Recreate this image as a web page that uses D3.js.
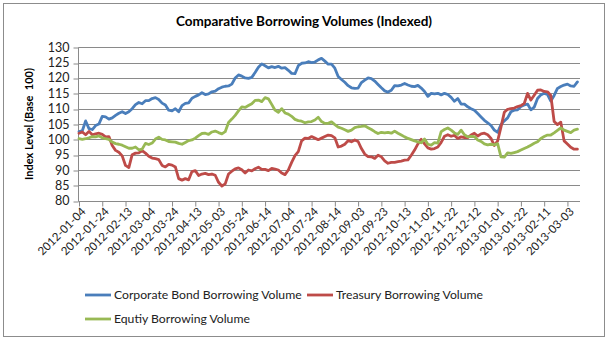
<!DOCTYPE html>
<html>
<head>
<meta charset="utf-8">
<script src="https://cdn.jsdelivr.net/npm/d3@7"></script>
<style>
  html, body { margin: 0; padding: 0; background: #fff; }
  svg { display: block; font-family: Lato, "Open Sans", sans-serif; }
</style>
</head>
<body>
<svg id="chart" width="609" height="341"></svg>
<script>
// Tick labels along the category axis (one every 7 samples)
const tickLabels = [
  "2012-01-04","2012-01-24","2012-02-13","2012-03-04","2012-03-24","2012-04-13",
  "2012-05-03","2012-05-24","2012-06-14","2012-07-04","2012-07-24","2012-08-14",
  "2012-09-03","2012-09-23","2012-10-13","2012-11-02","2012-11-22","2012-12-12",
  "2013-01-01","2013-01-22","2013-02-11","2013-03-03"
];
const samplesPerTick = 7;

const yTicks = [80, 85, 90, 95, 100, 105, 110, 115, 120, 125, 130];

// Index levels (base 100), sampled evenly along the axis
const corporateBond = [
  102.5,102.8,106,103.5,103.2,104.5,105,107.5,107.3,106.6,107,107.8,108.5,109,108.4,109,110,111.3,112,111.6,
  112.6,112.6,113.3,113.6,113,111.8,111.2,109.5,109.3,110,109,111,111.7,111.9,113.4,114,114.5,115.2,
  114.6,114.8,115.5,115.7,116.5,117,117.3,117.4,118,120,121,120.6,120,119.9,120.2,121.8,123.5,124.6,124,
  123.3,123.7,123.4,123.8,123.2,123.4,122.5,121.5,121.4,124,124.8,124.9,125.3,125,125.2,125.9,126.4,125.5,124.5,
  124.5,123.2,120.5,119.5,118.6,117.5,116.8,116.6,116.7,118.5,119.3,120,119.8,119,117.9,116.8,115.8,115.4,116,
  117.5,117.4,117.7,118.2,117.7,117.3,117.2,117.6,116.7,115.6,114,115,114.8,115,114.5,115,114.6,113.7,112.4,
  113.3,111.5,111.5,110.6,110,109.5,108.4,107.3,106.2,105.4,104.5,103,102.3,104.8,106,107,109,109.5,109.6,
  110.7,111.2,111.5,109.6,110.5,113.3,114.5,115,114.6,112.5,114.3,116.6,117.2,117.7,118,117.4,117.3,118.7
];

const treasury = [
  102,102.4,101.5,102.6,101.5,101.8,102,101.6,100.8,100.9,98,96.4,95.8,94.6,91.5,90.8,95,95.5,95.6,96.3,
  95.5,94.5,93.9,93.7,93.4,91.5,91,91.8,91.6,91,87.2,86.7,87.2,86.8,89.5,89.8,88.2,88.7,
  88.9,88.5,88.7,88.3,86,84.8,85.5,88.7,89.6,90.4,90.7,90.1,89,90,89.7,90.4,90.9,90.2,90.2,
  89.8,90.5,90.3,90,89,88.5,90,92.5,94.7,96,99.5,100.4,100.3,100.9,100.4,99.9,100.4,100.9,101.4,
  101.2,100.5,97.5,97.8,98.4,99.6,99.2,99.8,99.3,97,95.2,94.4,94.3,93.8,94.8,94.3,93,92.2,92.5,
  92.5,92.7,92.9,93.2,93.3,94.8,96.5,98.5,100,98.5,97.2,96.8,97,97.5,99,101,101.5,101,101.3,
  100.3,100.8,100.6,100.6,101.4,102,101.1,101.8,102,101.5,100.3,98,99.5,104,108.8,109.8,110,110.2,110.7,
  111,111.7,115,112.8,114.4,116,116.1,115.6,115.5,114.3,105.8,104.8,105.6,99.5,98.5,97.4,96.8,96.8
];

const equity = [
  100.2,100,100.2,100.5,100.9,100.8,101.1,100.5,100.2,100,99.1,98.6,98.4,98.1,97.6,97.1,97.1,97.5,96.6,96.8,
  98.7,98.3,98.8,100.1,100.7,100,99.8,99.3,99.2,99.1,98.7,98.4,99,99.6,99.8,100.4,101.2,101.9,
  102,101.6,102.4,102.7,102.2,101.8,102.5,105.5,106.6,107.8,109.3,110.6,110.4,111,111.6,112.7,112.8,112.3,113.6,
  113.2,111.4,109.5,108.8,110,108.6,108.2,107.5,106.5,106.1,105.9,105.4,105.7,105.8,106.3,107.2,105.8,105.2,105.2,
  105.7,104.8,104,103.6,103.1,102.6,103,103.8,104.1,104.2,104.4,103.8,103.2,102.5,101.9,102.3,102.1,102.3,102,
  102.7,102,101.4,100.8,100.3,99.9,99.5,99.2,98.9,100.1,98.4,98.1,98.9,98.8,102.5,103.2,103.7,103,102.1,
  101.6,103,101.5,100.8,101,100.9,99.8,99.3,98.5,98.2,98.4,98.2,98.6,94.3,94.2,95.6,95.4,95.7,96,
  96.5,97,97.5,98.1,98.7,99.2,100.3,100.9,101.4,101.4,102.1,102.9,103.7,103,102.6,102.2,103,103.3
];

const seriesNames = ["Corporate Bond Borrowing Volume", "Treasury Borrowing Volume", "Equtiy Borrowing Volume"];
const seriesColors = ["#4a7ebb", "#be4b48", "#98b954"];
const seriesValues = [corporateBond, treasury, equity];

const svg = d3.select("#chart");

// Chart frame
svg.append("rect")
  .attr("x", 3.5).attr("y", 3.5)
  .attr("width", 601).attr("height", 333)
  .attr("fill", "#fff").attr("stroke", "#8c8c8c").attr("stroke-width", 1);

// Title
svg.append("text")
  .attr("x", 304).attr("y", 26)
  .attr("text-anchor", "middle")
  .attr("font-size", 13.5).attr("font-weight", "bold")
  .attr("fill", "#000")
  .text("Comparative Borrowing Volumes (Indexed)");

const plot = { left: 78.5, right: 580, top: 47.3, bottom: 200.7 };
const n = corporateBond.length;

const x = d3.scaleLinear()
  .domain([0, n - 1])
  .range([plot.left + 0.5, 577.4]);

const y = d3.scaleLinear()
  .domain([80, 130])
  .range([plot.bottom, plot.top]);

// Horizontal gridlines
svg.append("g")
  .selectAll("line")
  .data(yTicks)
  .join("line")
  .attr("x1", plot.left).attr("x2", plot.right)
  .attr("y1", d => Math.round(y(d)) + 0.5).attr("y2", d => Math.round(y(d)) + 0.5)
  .attr("stroke", "#8a8a8a").attr("stroke-width", 1);

// Y axis
const yAxis = svg.append("g")
  .attr("transform", `translate(${plot.left},0)`)
  .call(d3.axisLeft(y).tickValues(yTicks).tickSize(5).tickPadding(4));
yAxis.selectAll("line").attr("stroke", "#8a8a8a")
  .attr("transform", d => `translate(0,${Math.round(y(d)) + 0.5 - y(d)})`);
yAxis.select(".domain").attr("stroke", "#8a8a8a").attr("d", `M0,${plot.top}V${plot.bottom + 0.5}`);
yAxis.selectAll("text")
  .attr("font-family", "Lato, sans-serif")
  .attr("font-size", 12.5).attr("fill", "#222");

// X axis with a label every seven samples
const tickIdx = tickLabels.map((d, k) => k * samplesPerTick);
const xAxis = svg.append("g")
  .attr("transform", `translate(0,${Math.round(plot.bottom) + 0.5})`)
  .call(d3.axisBottom(x).tickValues(tickIdx).tickSize(5)
    .tickFormat((d, k) => tickLabels[k]));
xAxis.select(".domain").attr("stroke", "#8a8a8a").attr("d", `M${plot.left},0H${plot.right}`);
xAxis.selectAll("line").attr("stroke", "#8a8a8a");
xAxis.selectAll("text")
  .attr("font-family", "Lato, sans-serif")
  .attr("font-size", 11.5).attr("fill", "#222")
  .attr("text-anchor", "end")
  .attr("dy", "0.35em").attr("y", 0)
  .attr("transform", "translate(4,8) rotate(-45)");

// Y axis title
svg.append("text")
  .attr("transform", "translate(33,124) rotate(-90)")
  .attr("text-anchor", "middle")
  .attr("font-size", 11).attr("font-weight", "bold")
  .attr("fill", "#000")
  .attr("xml:space", "preserve")
  .text("Index Level (Base  100)");

// Series lines
const line = d3.line()
  .x((d, i) => x(i))
  .y(d => y(d));

svg.append("g")
  .selectAll("path")
  .data(seriesValues)
  .join("path")
  .attr("d", d => line(d))
  .attr("fill", "none")
  .attr("stroke", (d, i) => seriesColors[i])
  .attr("stroke-width", 2.8)
  .attr("stroke-linejoin", "round")
  .attr("stroke-linecap", "round");

// Legend
const legendItems = [
  { lx: 85, ly: 295, k: 0 },
  { lx: 307, ly: 295, k: 1 },
  { lx: 85, ly: 319, k: 2 }
];
const legend = svg.append("g");
legendItems.forEach(it => {
  legend.append("line")
    .attr("x1", it.lx).attr("x2", it.lx + 26)
    .attr("y1", it.ly).attr("y2", it.ly)
    .attr("stroke", seriesColors[it.k]).attr("stroke-width", 2.8);
  legend.append("text")
    .attr("x", it.lx + 29).attr("y", it.ly)
    .attr("dy", "0.35em")
    .attr("font-size", 12.2).attr("fill", "#222")
    .text(seriesNames[it.k]);
});
</script>
</body>
</html>
